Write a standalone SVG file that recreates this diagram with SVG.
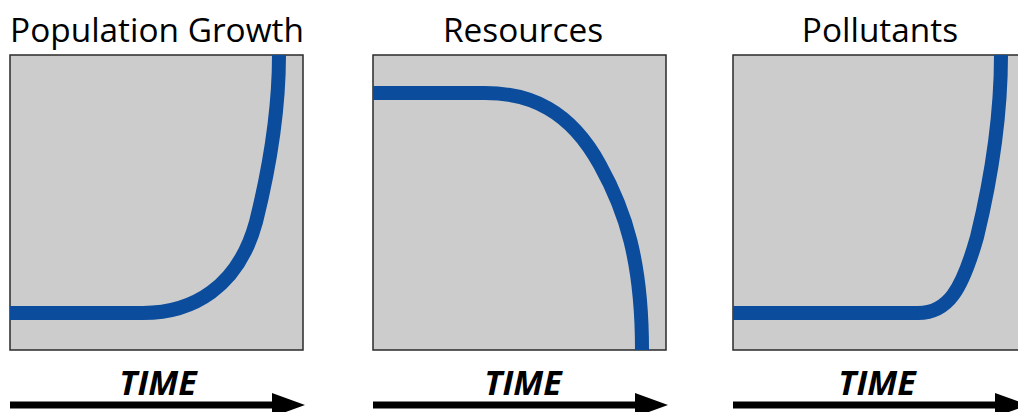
<svg xmlns="http://www.w3.org/2000/svg" width="1018" height="412" viewBox="0 0 1018 412">
<style>
.title{font-family:"Open Sans","Noto Sans",sans-serif;font-size:33.4px;fill:#000;text-anchor:middle}
.time{font-family:"Open Sans","Noto Sans",sans-serif;font-size:34px;font-weight:bold;font-style:italic;fill:#000;text-anchor:middle}
.box{fill:#cccccc;stroke:#2a2a2a;stroke-width:1.5}
.curve{fill:none;stroke:#0b4c9c;stroke-width:14}
.axis{stroke:#000;stroke-width:7}
</style>
<rect width="1018" height="412" fill="#fff"/>
<g id="population">
<text class="title" x="157" y="42">Population Growth</text>
<rect class="box" x="10" y="55" width="293" height="295"/>
<path class="curve" d="M10,313 H143 C192,313 238,288 256,222 C262,198 279,130 279,55"/>
<text class="time" x="158" y="395">TIME</text>
<line class="axis" x1="10" y1="405" x2="274" y2="405"/>
<polygon points="272,393 305,405 272,417" fill="#000"/>
</g>
<g id="resources">
<text class="title" x="523" y="42">Resources</text>
<rect class="box" x="373" y="55" width="293" height="295"/>
<path class="curve" d="M373,93 H485 C530,93 570,110 600,165 C625,210 642,260 642,350"/>
<text class="time" x="523" y="395">TIME</text>
<line class="axis" x1="373" y1="405" x2="637" y2="405"/>
<polygon points="635,393 668,405 635,417" fill="#000"/>
</g>
<g id="pollutants">
<text class="title" x="880" y="42">Pollutants</text>
<rect class="box" x="733" y="55" width="300" height="295"/>
<path class="curve" d="M733,313 H918 C948,313 962,290 977,237 C986,200 1001,130 1001,55"/>
<text class="time" x="877" y="395">TIME</text>
<line class="axis" x1="733" y1="405" x2="997" y2="405"/>
<polygon points="995,393 1028,405 995,417" fill="#000"/>
</g>
</svg>
